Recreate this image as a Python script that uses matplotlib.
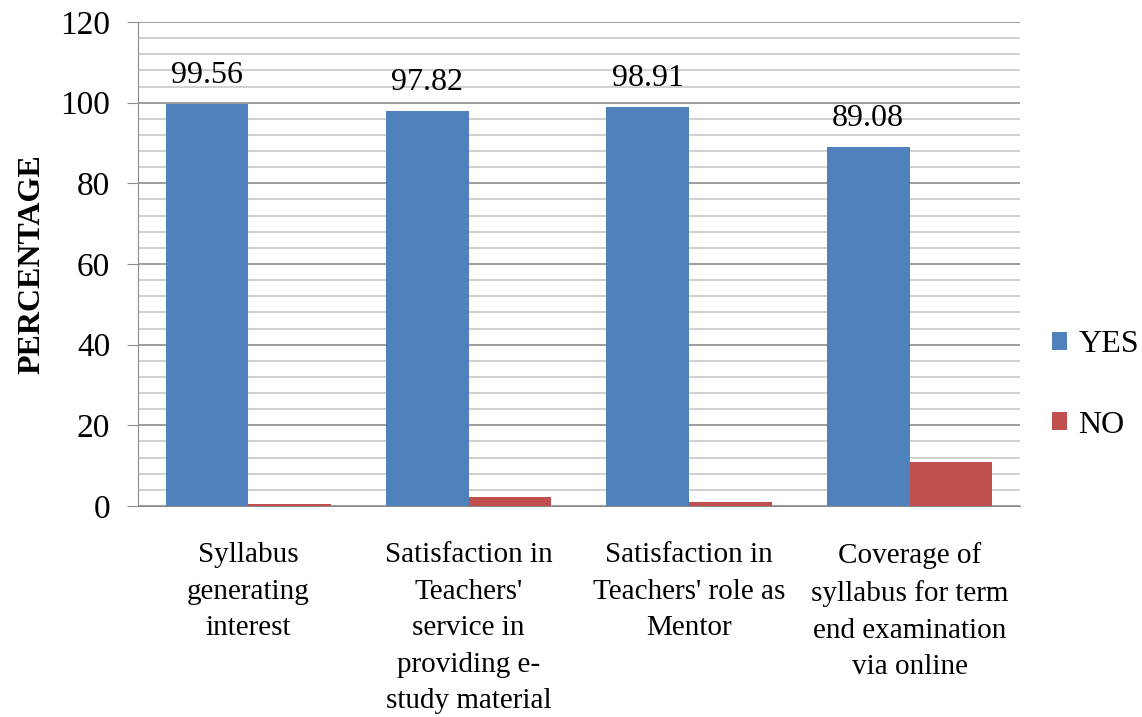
import matplotlib.pyplot as plt
import numpy as np
from matplotlib.ticker import MultipleLocator

categories = [
    "Syllabus\ngenerating\ninterest",
    "Satisfaction in\nTeachers'\nservice in\nproviding e-\nstudy material",
    "Satisfaction in\nTeachers' role as\nMentor",
    "Coverage of\nsyllabus for term\nend examination\nvia online",
]
yes_values = [99.56, 97.82, 98.91, 89.08]
no_values = [0.44, 2.18, 1.09, 10.92]

plt.rcParams['font.family'] = ['Liberation Serif', 'DejaVu Serif']

fig = plt.figure(figsize=(11.42, 7.17), dpi=100)
ax = fig.add_axes([0.1208, 0.2943, 0.7722, 0.675])

x = np.arange(len(categories))
w = 0.375
b1 = ax.bar(x - w / 2, yes_values, w, color='#4F81BD', label='YES', zorder=3)
b2 = ax.bar(x + w / 2, no_values, w, color='#C0504D', label='NO', zorder=3)

for rect, v in zip(b1, yes_values):
    ax.text(rect.get_x() + rect.get_width() / 2, v + 3.5, f"{v:.2f}",
            ha='center', va='bottom', fontsize=23)

ax.set_xlim(-0.5, len(categories) - 0.5)
ax.set_ylim(0, 120)
ax.yaxis.set_major_locator(MultipleLocator(20))
ax.yaxis.set_minor_locator(MultipleLocator(4))
ax.grid(which='major', axis='y', color='#8c8c8c', linewidth=1.2, zorder=0)
ax.grid(which='minor', axis='y', color='#c8c8c8', linewidth=1.2, zorder=0)

ax.set_xticks(x)
ax.set_xticklabels(categories, fontsize=21, linespacing=1.53)
ax.tick_params(axis='x', length=0, pad=26)
ax.tick_params(axis='y', which='major', labelsize=24, length=8, color='#8c8c8c', pad=12)
ax.tick_params(axis='y', which='minor', length=0)

for s in ['top', 'right']:
    ax.spines[s].set_visible(False)
ax.spines['left'].set_color('#8c8c8c')
ax.spines['bottom'].set_color('#8c8c8c')

ax.set_ylabel('PERCENTAGE', fontsize=23, fontweight='bold', labelpad=10)

ax.legend(loc='center left', bbox_to_anchor=(0.896, 0.463), bbox_transform=fig.transFigure,
          frameon=False, fontsize=23, handlelength=0.47, handleheight=0.47,
          handletextpad=0.35, labelspacing=1.6)

fig.savefig('out.png', dpi=100)
